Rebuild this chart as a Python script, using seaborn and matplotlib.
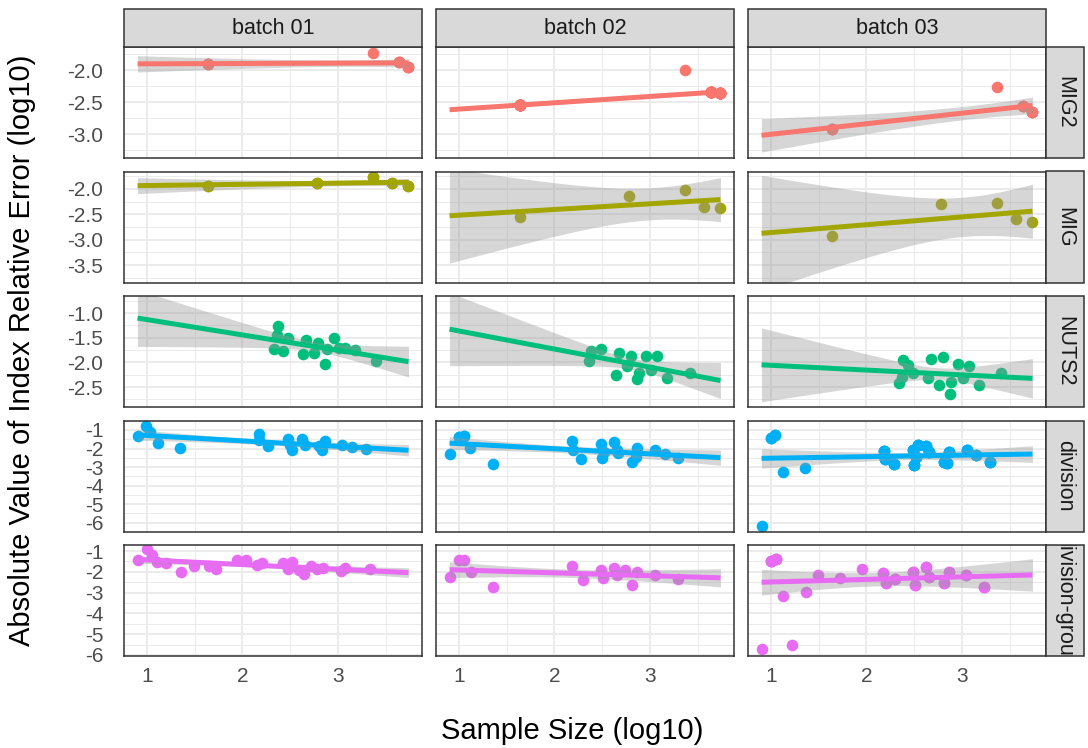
import numpy as np
import matplotlib
matplotlib.use("Agg")
import matplotlib.pyplot as plt
from matplotlib.patches import Rectangle
import seaborn as sns

# ---------------- data ----------------
BATCHES = ["batch 01", "batch 02", "batch 03"]
LEVELS = ["MIG2", "MIG", "NUTS2", "division", "division-group"]
COLORS = ["#F8766D", "#A3A500", "#00BF7D", "#00B0F6", "#E76BF3"]

# MIG2
MIG2_X = [1.64, 3.37, 3.64, 3.74]
MIG2_B1_Y = [-1.91, -1.73, -1.87, -1.95]
MIG2_B2_Y = [-2.55, -2.00, -2.34, -2.36]
MIG2_B3_Y = [-2.92, -2.26, -2.56, -2.66]
MIG2_B1_N = [3, 1, 3, 3]          # overlapping observations per dot
MIG2_B2_N = [30, 1, 30, 30]
MIG2_B3_N = [3, 1, 3, 3]

# MIG
MIG_X = [1.64, 2.78, 3.37, 3.57, 3.74]
MIG_B1_Y = [-1.94, -1.88, -1.76, -1.89, -1.95]
MIG_B2_Y = [-2.56, -2.13, -2.02, -2.36, -2.38]
MIG_B3_Y = [-2.92, -2.30, -2.27, -2.59, -2.66]
MIG_B1_N = [2, 2, 2, 2, 2]

# NUTS2
NUTS2_B1_X = [2.37, 2.36, 2.48, 2.33, 2.43, 2.67, 2.63, 2.79, 2.75, 2.89, 2.96, 2.87, 3.01, 3.08, 3.18, 3.40]
NUTS2_B1_Y = [-1.27, -1.45, -1.50, -1.73, -1.76, -1.55, -1.84, -1.61, -1.81, -1.72, -1.50, -2.04, -1.71, -1.70, -1.74, -1.97]
NUTS2_B2_X = [2.38, 2.49, 2.36, 2.68, 2.80, 2.76, 2.96, 3.08, 2.64, 2.89, 2.87, 3.01, 3.18, 3.42]
NUTS2_B2_Y = [-1.77, -1.72, -1.97, -1.81, -1.88, -2.08, -1.87, -1.87, -2.25, -2.21, -2.33, -2.16, -2.32, -2.21]
NUTS2_B3_X = [2.38, 2.44, 2.49, 2.34, 2.37, 2.68, 2.80, 2.96, 3.08, 2.64, 2.76, 2.89, 3.01, 3.18, 2.88, 3.41]
NUTS2_B3_Y = [-1.96, -2.06, -2.21, -2.42, -2.30, -1.93, -1.90, -2.03, -2.08, -2.32, -2.45, -2.40, -2.32, -2.46, -2.65, -2.21]

# division
DIV_B1_X = [0.90, 0.99, 1.03, 1.11, 1.35, 2.17, 2.17, 2.27, 2.48, 2.50, 2.52, 2.62, 2.66, 2.80, 2.86, 2.83, 3.04, 3.15, 3.30]
DIV_B1_Y = [-1.33, -0.76, -1.09, -1.68, -1.97, -1.24, -1.55, -1.87, -1.49, -1.82, -2.10, -1.49, -1.82, -1.85, -1.60, -2.10, -1.82, -1.91, -2.05]
DIV_B2_X = [0.90, 1.00, 1.05, 1.11, 1.36, 2.18, 2.19, 2.28, 2.49, 2.50, 2.52, 2.62, 2.66, 2.67, 2.81, 2.87, 2.85, 3.05, 3.16, 3.30]
DIV_B2_Y = [-2.32, -1.37, -1.33, -1.97, -2.83, -1.59, -2.10, -2.55, -1.73, -2.52, -2.19, -1.65, -2.10, -2.23, -2.74, -1.97, -2.47, -2.10, -2.28, -2.52]
DIV_B2_N = [1, 2, 2, 1, 1, 1, 1, 1, 1, 1, 1, 1, 1, 1, 1, 1, 1, 1, 1, 1]
DIV_B3_X = [0.90, 1.00, 1.04, 1.12, 1.36, 2.18, 2.19, 2.29, 2.49, 2.50, 2.52, 2.54, 2.62, 2.66, 2.81, 2.86, 2.84, 3.05, 3.15, 3.30]
DIV_B3_Y = [-6.15, -1.42, -1.27, -3.29, -3.07, -2.14, -2.56, -2.83, -2.10, -2.88, -2.46, -1.82, -1.86, -2.19, -2.70, -2.19, -2.77, -2.10, -2.33, -2.74]
DIV_B3_N = [1, 2, 2, 1, 1, 3, 3, 3, 3, 3, 3, 3, 3, 3, 3, 3, 3, 3, 3, 3]

# division-group
DG_B1_X = [0.90, 1.00, 1.05, 1.10, 1.20, 1.36, 1.49, 1.65, 1.72, 1.94, 2.04, 2.15, 2.20, 2.43, 2.48, 2.52, 2.59, 2.65, 2.72, 2.78, 2.84, 3.03, 3.08, 3.34]
DG_B1_Y = [-1.43, -0.90, -1.19, -1.53, -1.58, -2.01, -1.72, -1.72, -1.87, -1.43, -1.43, -1.67, -1.58, -1.58, -1.87, -1.53, -1.91, -2.11, -1.72, -1.87, -1.82, -1.96, -1.82, -1.87]
DG_B2_X = [0.90, 1.00, 1.05, 1.12, 1.36, 2.18, 2.30, 2.49, 2.51, 2.62, 2.66, 2.74, 2.81, 2.87, 3.05, 3.30]
DG_B2_Y = [-2.25, -1.43, -1.43, -2.01, -2.73, -1.72, -2.39, -1.91, -2.30, -1.82, -2.15, -1.91, -2.63, -2.01, -2.15, -2.35]
DG_B3_X = [0.91, 1.00, 1.05, 1.12, 1.22, 1.37, 1.49, 1.72, 1.95, 2.17, 2.20, 2.30, 2.49, 2.51, 2.62, 2.66, 2.81, 2.86, 3.04, 3.23]
DG_B3_Y = [-5.71, -1.48, -1.38, -3.16, -5.52, -2.97, -2.15, -2.30, -1.87, -2.06, -2.54, -2.35, -2.01, -2.63, -1.77, -2.25, -2.54, -2.01, -2.15, -2.73]
DG_B3_N = [1, 3, 3, 1, 1, 1, 1, 1, 1, 2, 2, 2, 2, 2, 2, 2, 2, 2, 2, 2]

PANELS = [
    [(MIG2_X, MIG2_B1_Y, MIG2_B1_N), (MIG2_X, MIG2_B2_Y, MIG2_B2_N), (MIG2_X, MIG2_B3_Y, MIG2_B3_N)],
    [(MIG_X, MIG_B1_Y, MIG_B1_N), (MIG_X, MIG_B2_Y, None), (MIG_X, MIG_B3_Y, None)],
    [(NUTS2_B1_X, NUTS2_B1_Y, None), (NUTS2_B2_X, NUTS2_B2_Y, None), (NUTS2_B3_X, NUTS2_B3_Y, None)],
    [(DIV_B1_X, DIV_B1_Y, None), (DIV_B2_X, DIV_B2_Y, DIV_B2_N), (DIV_B3_X, DIV_B3_Y, DIV_B3_N)],
    [(DG_B1_X, DG_B1_Y, None), (DG_B2_X, DG_B2_Y, None), (DG_B3_X, DG_B3_Y, DG_B3_N)],
]

X_TICKS = [1, 2, 3]
X_TICK_LABELS = ["1", "2", "3"]
Y_TICKS = [
    [-2.0, -2.5, -3.0],
    [-2.0, -2.5, -3.0, -3.5],
    [-1.0, -1.5, -2.0, -2.5],
    [-1, -2, -3, -4, -5, -6],
    [-1, -2, -3, -4, -5, -6],
]
Y_TICK_LABELS = [
    ["-2.0", "-2.5", "-3.0"],
    ["-2.0", "-2.5", "-3.0", "-3.5"],
    ["-1.0", "-1.5", "-2.0", "-2.5"],
    ["-1", "-2", "-3", "-4", "-5", "-6"],
    ["-1", "-2", "-3", "-4", "-5", "-6"],
]
X_LABEL = "Sample Size (log10)"
Y_LABEL = "Absolute Value of Index Relative Error (log10)"

# ---------------- layout / style ----------------
W, H = 1088, 748
COL_LEFT = [124, 436, 748]
PANEL_W = 298
ROW_TOP = [47, 171.5, 296, 420.5, 545]
PANEL_H = 111
STRIP = 38
Y_LIMS = [(-3.375, -1.64), (-3.845, -1.655), (-2.905, -0.655), (-6.47, -0.49), (-6.05, -0.71)]

sns.set_style("white")
plt.rcParams["font.family"] = ["Liberation Sans", "DejaVu Sans"]
plt.rcParams["axes.unicode_minus"] = False

GRID = "#EBEBEB"
BORDER = "#333333"
TICK_TXT = "#4D4D4D"
TICK_FS = 15
STRIP_FS = 15.5
TITLE_FS = 21


def t975(df):
    try:
        from scipy import stats
        return float(stats.t.ppf(0.975, df))
    except Exception:
        d = np.array([1, 2, 3, 4, 5, 6, 7, 8, 9, 10, 12, 15, 20, 25, 30, 40, 60, 120, 1000])
        t = np.array([12.706, 4.303, 3.182, 2.776, 2.571, 2.447, 2.365, 2.306, 2.262, 2.228,
                      2.179, 2.131, 2.086, 2.060, 2.042, 2.021, 2.000, 1.980, 1.962])
        return float(np.interp(df, d, t))


all_x = np.concatenate([np.asarray(p[0]) for row in PANELS for p in row])
XMIN, XMAX = all_x.min(), all_x.max()
pad = 0.05 * (XMAX - XMIN)
XLIM = (XMIN - pad, XMAX + pad)

fig = plt.figure(figsize=(W / 100, H / 100), dpi=100)


def fx(px):
    return px / W


def fy(py):
    return 1 - py / H


for r, level in enumerate(LEVELS):
    for c, batch in enumerate(BATCHES):
        x, y, n = PANELS[r][c]
        n = np.ones(len(x), dtype=int) if n is None else np.asarray(n)
        xs = np.repeat(np.asarray(x, float), n)
        ys = np.repeat(np.asarray(y, float), n)

        ax = fig.add_axes([fx(COL_LEFT[c]), fy(ROW_TOP[r] + PANEL_H), fx(PANEL_W), PANEL_H / H])
        ax.set_facecolor("white")
        ax.set_xlim(XMIN, XMAX)
        sns.regplot(x=xs, y=ys, ax=ax, ci=None, truncate=False, color=COLORS[r],
                    scatter_kws=dict(s=70, alpha=1, linewidths=0, zorder=1),
                    line_kws=dict(lw=3.6, zorder=3, solid_capstyle="butt"))

        # confidence band (lm, 95%)
        grid = np.linspace(XMIN, XMAX, 120)
        b1, b0 = np.polyfit(xs, ys, 1)
        resid = ys - (b0 + b1 * xs)
        dof = len(xs) - 2
        s = np.sqrt(np.sum(resid ** 2) / dof)
        sxx = np.sum((xs - xs.mean()) ** 2)
        se = s * np.sqrt(1.0 / len(xs) + (grid - xs.mean()) ** 2 / sxx)
        fit = b0 + b1 * grid
        tq = t975(dof)
        ax.fill_between(grid, fit - tq * se, fit + tq * se, facecolor="#999999",
                        alpha=0.4, lw=0, zorder=2)

        ax.set_xlabel("")
        ax.set_ylabel("")

        ax.set_xticks(X_TICKS)
        ax.set_xticks([0.5, 1.5, 2.5, 3.5], minor=True)
        yt = Y_TICKS[r]
        step = yt[0] - yt[1]
        ax.set_yticks(yt)
        ax.set_yticks([v + step / 2 for v in [yt[0]] + list(yt)] + [yt[-1] - step / 2], minor=True)
        ax.set_xlim(*XLIM)
        ax.set_ylim(*Y_LIMS[r])
        ax.grid(which="major", color=GRID, lw=1.4)
        ax.grid(which="minor", color=GRID, lw=0.7)
        ax.set_axisbelow(True)
        for sp in ax.spines.values():
            sp.set_color(BORDER)
            sp.set_linewidth(1.1)
            sp.set_zorder(5)

        ax.tick_params(which="minor", length=0)
        ax.tick_params(which="major", length=4.5, width=0.9, color=BORDER,
                       labelsize=TICK_FS, labelcolor=TICK_TXT)
        ax.tick_params(axis="x", pad=3.5)
        ax.tick_params(axis="y", pad=10.5)
        if c == 0:
            ax.set_yticklabels(Y_TICK_LABELS[r])
        else:
            ax.tick_params(axis="y", left=False, labelleft=False)
        if r == len(LEVELS) - 1:
            ax.set_xticklabels(X_TICK_LABELS)
        else:
            ax.tick_params(axis="x", bottom=False, labelbottom=False)

        # top strips
        if r == 0:
            rect = Rectangle((fx(COL_LEFT[c]), fy(ROW_TOP[0])), fx(PANEL_W), STRIP / H,
                             transform=fig.transFigure, facecolor="#D9D9D9",
                             edgecolor=BORDER, lw=1.1)
            fig.add_artist(rect)
            fig.text(fx(COL_LEFT[c] + PANEL_W / 2), fy(ROW_TOP[0] - STRIP / 2), batch,
                     ha="center", va="center", fontsize=STRIP_FS, color="#1A1A1A")
        # right strips
        if c == len(BATCHES) - 1:
            x0 = COL_LEFT[c] + PANEL_W
            rect = Rectangle((fx(x0), fy(ROW_TOP[r] + PANEL_H)), STRIP / W, PANEL_H / H,
                             transform=fig.transFigure, facecolor="#D9D9D9",
                             edgecolor=BORDER, lw=1.1)
            fig.add_artist(rect)
            t = fig.text(fx(x0 + STRIP / 2), fy(ROW_TOP[r] + PANEL_H / 2), level,
                         ha="center", va="center", rotation=-90, fontsize=STRIP_FS,
                         color="#1A1A1A")
            t.set_clip_path(rect)

# axis titles
fig.text(fx(572), fy(731), X_LABEL,
         ha="center", va="center", fontsize=TITLE_FS, color="black")
fig.text(fx(22), fy(350), Y_LABEL,
         ha="center", va="center", rotation=90, fontsize=TITLE_FS, color="black")

fig.savefig("out.png", dpi=100, facecolor="white")
